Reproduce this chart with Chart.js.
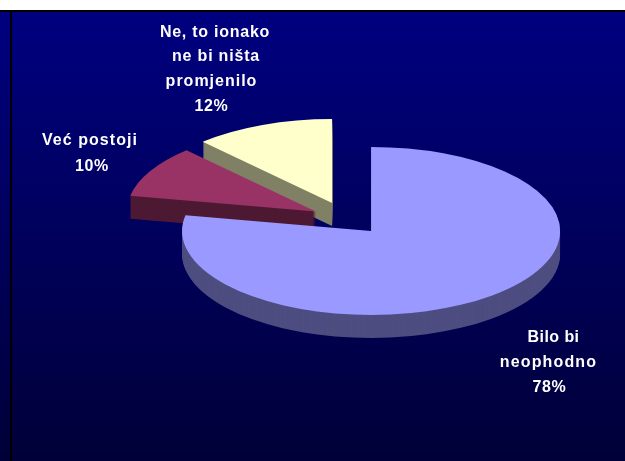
<!DOCTYPE html>
<html>
<head>
<meta charset="utf-8">
<style>html,body{margin:0;padding:0;background:#fff;overflow:hidden}#w{position:absolute;left:0;top:0;width:625px;height:461px}</style>
<script src="https://cdn.jsdelivr.net/npm/chart.js@4"></script>
</head>
<body>
<div id="w"><canvas id="c" width="625" height="461"></canvas></div>
<script>
const categories = ["Bilo bi neophodno", "Već postoji", "Ne, to ionako ne bi ništa promjenilo"];
const values = [78, 10, 12];
const labelLines = [["Bilo bi", "neophodno", "78%"], ["Već postoji", "10%"], ["Ne, to ionako", "ne bi ništa", "promjenilo", "12%"]];
const topColors = ["#9999FF", "#993366", "#FFFFCC"];
const sideColors = ["#4D4D80", "#4D1933", "#808066"];

const W = 625, H = 461;
const CX = 347, CY = 218, RX = 189, RY = 84, DEPTH = 23, EXPLODE = 0.2;
const sliceNudge = [[0, 0], [2, 1.5], [-1, 0.7]];
const labelXs = [[553.5, 548.5, 549.5], [90, 92], [215, 216, 211.5, 211.5]];
const labelYs = [[338, 363, 387.5], [141, 166.5], [33, 57, 82, 106.5]];
const labelTracking = [[0.45, 1.15, 0.6], [1.05, 0.6], [0.75, 0.8, 1.0, 0.6]];
const SHIFT = RX * EXPLODE;

const pie3d = {
  id: 'pie3d',
  beforeDraw(chart) {
    const ctx = chart.ctx;
    const g = ctx.createLinearGradient(0, 11, 0, H);
    g.addColorStop(0, '#000080');
    g.addColorStop(1, '#000038');
    ctx.save();
    ctx.fillStyle = '#fff';
    ctx.fillRect(0, 0, W, H);
    ctx.fillStyle = g;
    ctx.fillRect(0, 10, W, H - 10);
    ctx.fillStyle = '#000';
    ctx.fillRect(0, 10, W, 2);
    ctx.fillRect(10, 10, 2, H - 10);
    ctx.restore();
  },
  beforeDatasetsDraw(chart) {
    const ctx = chart.ctx;
    const arcs = chart.getDatasetMeta(0).data;
    const mx = chart.chartArea.left + chart.chartArea.width / 2;
    const my = chart.chartArea.top + chart.chartArea.height / 2;
    const place = (arc, i, dy) => {
      const mid = (arc.startAngle + arc.endAngle) / 2;
      ctx.translate(CX + sliceNudge[i][0], CY + sliceNudge[i][1] + dy);
      ctx.scale(1, RY / RX);
      ctx.translate(-mx + Math.cos(mid) * SHIFT, -my + Math.sin(mid) * SHIFT);
    };
    [2, 1, 0].forEach(i => {
      const arc = arcs[i];
      const base = arc.options;
      arc.options = Object.assign({}, base, {backgroundColor: sideColors[i], borderColor: sideColors[i], borderWidth: 0});
      for (let d = DEPTH; d > 0; d--) {
        ctx.save(); place(arc, i, d); arc.draw(ctx); ctx.restore();
      }
      arc.options = Object.assign({}, base, {backgroundColor: topColors[i], borderWidth: 0});
      ctx.save(); place(arc, i, 0); arc.draw(ctx); ctx.restore();
      arc.options = base;
    });
    return false;
  },
  afterDraw(chart) {
    const ctx = chart.ctx;
    ctx.save();
    ctx.fillStyle = '#fff';
    ctx.font = 'bold 16px "Liberation Sans", Arial, sans-serif';
    ctx.textAlign = 'center';
    ctx.textBaseline = 'middle';
    labelLines.forEach((lines, i) => {
      lines.forEach((t, j) => {
        ctx.letterSpacing = labelTracking[i][j] + 'px';
        ctx.fillText(t, labelXs[i][j], labelYs[i][j]);
      });
    });
    ctx.restore();
  }
};

new Chart(document.getElementById('c'), {
  type: 'pie',
  data: {
    labels: categories,
    datasets: [{
      data: values,
      backgroundColor: topColors,
      borderWidth: 0
    }]
  },
  options: {
    responsive: false,
    animation: false,
    radius: RX,
    layout: {padding: 0},
    plugins: {legend: {display: false}, tooltip: {enabled: false}}
  },
  plugins: [pie3d]
});
</script>
</body>
</html>
